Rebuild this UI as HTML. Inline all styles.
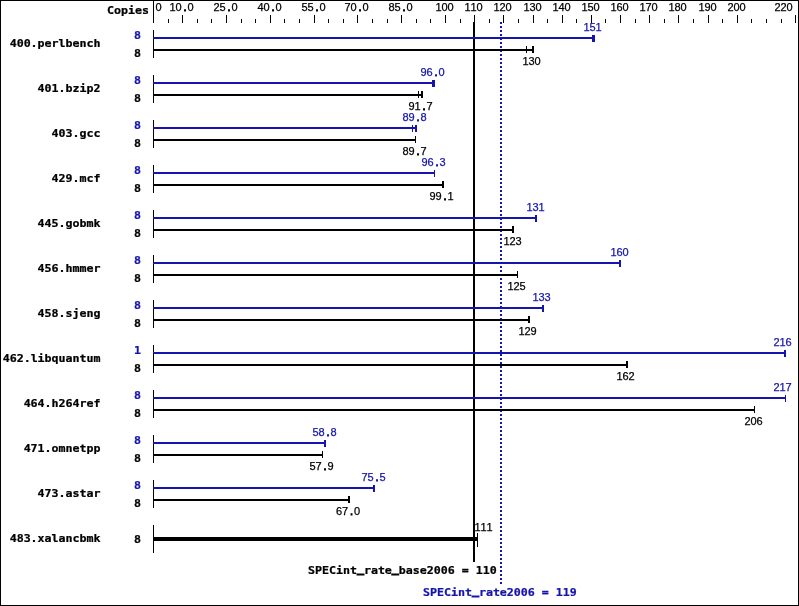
<!DOCTYPE html>
<html lang="en">
<head>
<meta charset="utf-8">
<title>SPECint_rate2006 results graph</title>
<style>
html,body{margin:0;padding:0;background:#fff;}
body{width:799px;height:606px;overflow:hidden;}
svg{display:block;}
text.s{font-family:'Liberation Sans',Arial,sans-serif;font-size:11px;stroke-width:0.25px;}
text.b{font-family:'DejaVu Sans Mono','Liberation Mono',monospace;font-size:11px;font-weight:bold;stroke-width:0.25px;}
tspan.u{stroke-width:0.9px;}
tspan.d{stroke-width:0.9px;}
rect{shape-rendering:crispEdges;}
</style>
</head>
<body>
<svg width="799" height="606" viewBox="0 0 799 606">
<rect x="0" y="0" width="799" height="606" fill="#fff"/>
<rect x="153" y="0" width="1" height="23" fill="#000"/>
<rect x="168" y="19" width="1" height="4" fill="#000"/>
<rect x="182" y="15" width="1" height="8" fill="#000"/>
<rect x="197" y="19" width="1" height="4" fill="#000"/>
<rect x="211" y="19" width="1" height="4" fill="#000"/>
<rect x="226" y="15" width="1" height="8" fill="#000"/>
<rect x="241" y="19" width="1" height="4" fill="#000"/>
<rect x="255" y="19" width="1" height="4" fill="#000"/>
<rect x="270" y="15" width="1" height="8" fill="#000"/>
<rect x="284" y="19" width="1" height="4" fill="#000"/>
<rect x="299" y="19" width="1" height="4" fill="#000"/>
<rect x="314" y="15" width="1" height="8" fill="#000"/>
<rect x="328" y="19" width="1" height="4" fill="#000"/>
<rect x="343" y="19" width="1" height="4" fill="#000"/>
<rect x="357" y="15" width="1" height="8" fill="#000"/>
<rect x="372" y="19" width="1" height="4" fill="#000"/>
<rect x="387" y="19" width="1" height="4" fill="#000"/>
<rect x="401" y="15" width="1" height="8" fill="#000"/>
<rect x="416" y="19" width="1" height="4" fill="#000"/>
<rect x="430" y="19" width="1" height="4" fill="#000"/>
<rect x="445" y="15" width="1" height="8" fill="#000"/>
<rect x="460" y="19" width="1" height="4" fill="#000"/>
<rect x="474" y="15" width="1" height="8" fill="#000"/>
<rect x="489" y="19" width="1" height="4" fill="#000"/>
<rect x="503" y="15" width="1" height="8" fill="#000"/>
<rect x="518" y="19" width="1" height="4" fill="#000"/>
<rect x="533" y="15" width="1" height="8" fill="#000"/>
<rect x="547" y="19" width="1" height="4" fill="#000"/>
<rect x="562" y="15" width="1" height="8" fill="#000"/>
<rect x="576" y="19" width="1" height="4" fill="#000"/>
<rect x="591" y="15" width="1" height="8" fill="#000"/>
<rect x="605" y="19" width="1" height="4" fill="#000"/>
<rect x="620" y="15" width="1" height="8" fill="#000"/>
<rect x="635" y="19" width="1" height="4" fill="#000"/>
<rect x="649" y="15" width="1" height="8" fill="#000"/>
<rect x="664" y="19" width="1" height="4" fill="#000"/>
<rect x="678" y="15" width="1" height="8" fill="#000"/>
<rect x="693" y="19" width="1" height="4" fill="#000"/>
<rect x="708" y="15" width="1" height="8" fill="#000"/>
<rect x="722" y="19" width="1" height="4" fill="#000"/>
<rect x="737" y="15" width="1" height="8" fill="#000"/>
<rect x="751" y="19" width="1" height="4" fill="#000"/>
<rect x="766" y="19" width="1" height="4" fill="#000"/>
<rect x="781" y="19" width="1" height="4" fill="#000"/>
<rect x="795" y="15" width="1" height="8" fill="#000"/>
<text class="s" x="155.5" y="11" fill="#000" stroke="#000">0</text>
<text class="s" x="169.5 175.5 183.5 187.5" y="11" fill="#000" stroke="#000">10<tspan class="d">.</tspan>0</text>
<text class="s" x="213.5 219.5 227.5 231.5" y="11" fill="#000" stroke="#000">25<tspan class="d">.</tspan>0</text>
<text class="s" x="257.5 263.5 271.5 275.5" y="11" fill="#000" stroke="#000">40<tspan class="d">.</tspan>0</text>
<text class="s" x="301.5 307.5 315.5 319.5" y="11" fill="#000" stroke="#000">55<tspan class="d">.</tspan>0</text>
<text class="s" x="344.5 350.5 358.5 362.5" y="11" fill="#000" stroke="#000">70<tspan class="d">.</tspan>0</text>
<text class="s" x="388.5 394.5 402.5 406.5" y="11" fill="#000" stroke="#000">85<tspan class="d">.</tspan>0</text>
<text class="s" x="435.5 441.5 447.5" y="11" fill="#000" stroke="#000">100</text>
<text class="s" x="464.5 470.5 476.5" y="11" fill="#000" stroke="#000">110</text>
<text class="s" x="493.5 499.5 505.5" y="11" fill="#000" stroke="#000">120</text>
<text class="s" x="523.5 529.5 535.5" y="11" fill="#000" stroke="#000">130</text>
<text class="s" x="552.5 558.5 564.5" y="11" fill="#000" stroke="#000">140</text>
<text class="s" x="581.5 587.5 593.5" y="11" fill="#000" stroke="#000">150</text>
<text class="s" x="610.5 616.5 622.5" y="11" fill="#000" stroke="#000">160</text>
<text class="s" x="639.5 645.5 651.5" y="11" fill="#000" stroke="#000">170</text>
<text class="s" x="668.5 674.5 680.5" y="11" fill="#000" stroke="#000">180</text>
<text class="s" x="698.5 704.5 710.5" y="11" fill="#000" stroke="#000">190</text>
<text class="s" x="727.5 733.5 739.5" y="11" fill="#000" stroke="#000">200</text>
<text class="s" x="774.5 780.5 786.5" y="11" fill="#000" stroke="#000">220</text>
<text class="b" transform="translate(149,14) scale(1.0570,1)" fill="#000" stroke="#000" text-anchor="end">Copies</text>
<rect x="473" y="22" width="2" height="540" fill="#000"/>
<rect x="500" y="22" width="2" height="2" fill="#1414ae"/>
<rect x="500" y="26" width="2" height="2" fill="#1414ae"/>
<rect x="500" y="30" width="2" height="2" fill="#1414ae"/>
<rect x="500" y="34" width="2" height="2" fill="#1414ae"/>
<rect x="500" y="38" width="2" height="2" fill="#1414ae"/>
<rect x="500" y="42" width="2" height="2" fill="#1414ae"/>
<rect x="500" y="46" width="2" height="2" fill="#1414ae"/>
<rect x="500" y="50" width="2" height="2" fill="#1414ae"/>
<rect x="500" y="54" width="2" height="2" fill="#1414ae"/>
<rect x="500" y="58" width="2" height="2" fill="#1414ae"/>
<rect x="500" y="62" width="2" height="2" fill="#1414ae"/>
<rect x="500" y="66" width="2" height="2" fill="#1414ae"/>
<rect x="500" y="70" width="2" height="2" fill="#1414ae"/>
<rect x="500" y="74" width="2" height="2" fill="#1414ae"/>
<rect x="500" y="78" width="2" height="2" fill="#1414ae"/>
<rect x="500" y="82" width="2" height="2" fill="#1414ae"/>
<rect x="500" y="86" width="2" height="2" fill="#1414ae"/>
<rect x="500" y="90" width="2" height="2" fill="#1414ae"/>
<rect x="500" y="94" width="2" height="2" fill="#1414ae"/>
<rect x="500" y="98" width="2" height="2" fill="#1414ae"/>
<rect x="500" y="102" width="2" height="2" fill="#1414ae"/>
<rect x="500" y="106" width="2" height="2" fill="#1414ae"/>
<rect x="500" y="110" width="2" height="2" fill="#1414ae"/>
<rect x="500" y="114" width="2" height="2" fill="#1414ae"/>
<rect x="500" y="118" width="2" height="2" fill="#1414ae"/>
<rect x="500" y="122" width="2" height="2" fill="#1414ae"/>
<rect x="500" y="126" width="2" height="2" fill="#1414ae"/>
<rect x="500" y="130" width="2" height="2" fill="#1414ae"/>
<rect x="500" y="134" width="2" height="2" fill="#1414ae"/>
<rect x="500" y="138" width="2" height="2" fill="#1414ae"/>
<rect x="500" y="142" width="2" height="2" fill="#1414ae"/>
<rect x="500" y="146" width="2" height="2" fill="#1414ae"/>
<rect x="500" y="150" width="2" height="2" fill="#1414ae"/>
<rect x="500" y="154" width="2" height="2" fill="#1414ae"/>
<rect x="500" y="158" width="2" height="2" fill="#1414ae"/>
<rect x="500" y="162" width="2" height="2" fill="#1414ae"/>
<rect x="500" y="166" width="2" height="2" fill="#1414ae"/>
<rect x="500" y="170" width="2" height="2" fill="#1414ae"/>
<rect x="500" y="174" width="2" height="2" fill="#1414ae"/>
<rect x="500" y="178" width="2" height="2" fill="#1414ae"/>
<rect x="500" y="182" width="2" height="2" fill="#1414ae"/>
<rect x="500" y="186" width="2" height="2" fill="#1414ae"/>
<rect x="500" y="190" width="2" height="2" fill="#1414ae"/>
<rect x="500" y="194" width="2" height="2" fill="#1414ae"/>
<rect x="500" y="198" width="2" height="2" fill="#1414ae"/>
<rect x="500" y="202" width="2" height="2" fill="#1414ae"/>
<rect x="500" y="206" width="2" height="2" fill="#1414ae"/>
<rect x="500" y="210" width="2" height="2" fill="#1414ae"/>
<rect x="500" y="214" width="2" height="2" fill="#1414ae"/>
<rect x="500" y="218" width="2" height="2" fill="#1414ae"/>
<rect x="500" y="222" width="2" height="2" fill="#1414ae"/>
<rect x="500" y="226" width="2" height="2" fill="#1414ae"/>
<rect x="500" y="230" width="2" height="2" fill="#1414ae"/>
<rect x="500" y="234" width="2" height="2" fill="#1414ae"/>
<rect x="500" y="238" width="2" height="2" fill="#1414ae"/>
<rect x="500" y="242" width="2" height="2" fill="#1414ae"/>
<rect x="500" y="246" width="2" height="2" fill="#1414ae"/>
<rect x="500" y="250" width="2" height="2" fill="#1414ae"/>
<rect x="500" y="254" width="2" height="2" fill="#1414ae"/>
<rect x="500" y="258" width="2" height="2" fill="#1414ae"/>
<rect x="500" y="262" width="2" height="2" fill="#1414ae"/>
<rect x="500" y="266" width="2" height="2" fill="#1414ae"/>
<rect x="500" y="270" width="2" height="2" fill="#1414ae"/>
<rect x="500" y="274" width="2" height="2" fill="#1414ae"/>
<rect x="500" y="278" width="2" height="2" fill="#1414ae"/>
<rect x="500" y="282" width="2" height="2" fill="#1414ae"/>
<rect x="500" y="286" width="2" height="2" fill="#1414ae"/>
<rect x="500" y="290" width="2" height="2" fill="#1414ae"/>
<rect x="500" y="294" width="2" height="2" fill="#1414ae"/>
<rect x="500" y="298" width="2" height="2" fill="#1414ae"/>
<rect x="500" y="302" width="2" height="2" fill="#1414ae"/>
<rect x="500" y="306" width="2" height="2" fill="#1414ae"/>
<rect x="500" y="310" width="2" height="2" fill="#1414ae"/>
<rect x="500" y="314" width="2" height="2" fill="#1414ae"/>
<rect x="500" y="318" width="2" height="2" fill="#1414ae"/>
<rect x="500" y="322" width="2" height="2" fill="#1414ae"/>
<rect x="500" y="326" width="2" height="2" fill="#1414ae"/>
<rect x="500" y="330" width="2" height="2" fill="#1414ae"/>
<rect x="500" y="334" width="2" height="2" fill="#1414ae"/>
<rect x="500" y="338" width="2" height="2" fill="#1414ae"/>
<rect x="500" y="342" width="2" height="2" fill="#1414ae"/>
<rect x="500" y="346" width="2" height="2" fill="#1414ae"/>
<rect x="500" y="350" width="2" height="2" fill="#1414ae"/>
<rect x="500" y="354" width="2" height="2" fill="#1414ae"/>
<rect x="500" y="358" width="2" height="2" fill="#1414ae"/>
<rect x="500" y="362" width="2" height="2" fill="#1414ae"/>
<rect x="500" y="366" width="2" height="2" fill="#1414ae"/>
<rect x="500" y="370" width="2" height="2" fill="#1414ae"/>
<rect x="500" y="374" width="2" height="2" fill="#1414ae"/>
<rect x="500" y="378" width="2" height="2" fill="#1414ae"/>
<rect x="500" y="382" width="2" height="2" fill="#1414ae"/>
<rect x="500" y="386" width="2" height="2" fill="#1414ae"/>
<rect x="500" y="390" width="2" height="2" fill="#1414ae"/>
<rect x="500" y="394" width="2" height="2" fill="#1414ae"/>
<rect x="500" y="398" width="2" height="2" fill="#1414ae"/>
<rect x="500" y="402" width="2" height="2" fill="#1414ae"/>
<rect x="500" y="406" width="2" height="2" fill="#1414ae"/>
<rect x="500" y="410" width="2" height="2" fill="#1414ae"/>
<rect x="500" y="414" width="2" height="2" fill="#1414ae"/>
<rect x="500" y="418" width="2" height="2" fill="#1414ae"/>
<rect x="500" y="422" width="2" height="2" fill="#1414ae"/>
<rect x="500" y="426" width="2" height="2" fill="#1414ae"/>
<rect x="500" y="430" width="2" height="2" fill="#1414ae"/>
<rect x="500" y="434" width="2" height="2" fill="#1414ae"/>
<rect x="500" y="438" width="2" height="2" fill="#1414ae"/>
<rect x="500" y="442" width="2" height="2" fill="#1414ae"/>
<rect x="500" y="446" width="2" height="2" fill="#1414ae"/>
<rect x="500" y="450" width="2" height="2" fill="#1414ae"/>
<rect x="500" y="454" width="2" height="2" fill="#1414ae"/>
<rect x="500" y="458" width="2" height="2" fill="#1414ae"/>
<rect x="500" y="462" width="2" height="2" fill="#1414ae"/>
<rect x="500" y="466" width="2" height="2" fill="#1414ae"/>
<rect x="500" y="470" width="2" height="2" fill="#1414ae"/>
<rect x="500" y="474" width="2" height="2" fill="#1414ae"/>
<rect x="500" y="478" width="2" height="2" fill="#1414ae"/>
<rect x="500" y="482" width="2" height="2" fill="#1414ae"/>
<rect x="500" y="486" width="2" height="2" fill="#1414ae"/>
<rect x="500" y="490" width="2" height="2" fill="#1414ae"/>
<rect x="500" y="494" width="2" height="2" fill="#1414ae"/>
<rect x="500" y="498" width="2" height="2" fill="#1414ae"/>
<rect x="500" y="502" width="2" height="2" fill="#1414ae"/>
<rect x="500" y="506" width="2" height="2" fill="#1414ae"/>
<rect x="500" y="510" width="2" height="2" fill="#1414ae"/>
<rect x="500" y="514" width="2" height="2" fill="#1414ae"/>
<rect x="500" y="518" width="2" height="2" fill="#1414ae"/>
<rect x="500" y="522" width="2" height="2" fill="#1414ae"/>
<rect x="500" y="526" width="2" height="2" fill="#1414ae"/>
<rect x="500" y="530" width="2" height="2" fill="#1414ae"/>
<rect x="500" y="534" width="2" height="2" fill="#1414ae"/>
<rect x="500" y="538" width="2" height="2" fill="#1414ae"/>
<rect x="500" y="542" width="2" height="2" fill="#1414ae"/>
<rect x="500" y="546" width="2" height="2" fill="#1414ae"/>
<rect x="500" y="550" width="2" height="2" fill="#1414ae"/>
<rect x="500" y="554" width="2" height="2" fill="#1414ae"/>
<rect x="500" y="558" width="2" height="2" fill="#1414ae"/>
<rect x="500" y="562" width="2" height="2" fill="#1414ae"/>
<rect x="500" y="566" width="2" height="2" fill="#1414ae"/>
<rect x="500" y="570" width="2" height="2" fill="#1414ae"/>
<rect x="500" y="574" width="2" height="2" fill="#1414ae"/>
<rect x="500" y="578" width="2" height="2" fill="#1414ae"/>
<rect x="500" y="582" width="2" height="2" fill="#1414ae"/>
<rect x="153" y="30" width="1" height="28" fill="#000"/>
<text class="b" transform="translate(100.5,47) scale(1.0570,1)" fill="#000" stroke="#000" text-anchor="end">400.perlbench</text>
<text class="b" transform="translate(141,39) scale(1.0570,1)" fill="#1414ae" stroke="#1414ae" text-anchor="end">8</text>
<text class="b" transform="translate(141,57) scale(1.0570,1)" fill="#000" stroke="#000" text-anchor="end">8</text>
<rect x="153" y="37" width="442" height="2" fill="#1414ae"/>
<rect x="593" y="35" width="2" height="7" fill="#1414ae"/>
<rect x="592" y="35" width="1" height="7" fill="#1414ae"/>
<text class="s" x="583.5 589.5 595.5" y="31" fill="#1414ae" stroke="#1414ae">151</text>
<rect x="153" y="49" width="381" height="2" fill="#000"/>
<rect x="532" y="46" width="2" height="7" fill="#000"/>
<rect x="526" y="46" width="1" height="7" fill="#000"/>
<text class="s" x="522.5 528.5 534.5" y="65" fill="#000" stroke="#000">130</text>
<rect x="153" y="75" width="1" height="28" fill="#000"/>
<text class="b" transform="translate(100.5,92) scale(1.0570,1)" fill="#000" stroke="#000" text-anchor="end">401.bzip2</text>
<text class="b" transform="translate(141,84) scale(1.0570,1)" fill="#1414ae" stroke="#1414ae" text-anchor="end">8</text>
<text class="b" transform="translate(141,102) scale(1.0570,1)" fill="#000" stroke="#000" text-anchor="end">8</text>
<rect x="153" y="82" width="282" height="2" fill="#1414ae"/>
<rect x="433" y="80" width="2" height="7" fill="#1414ae"/>
<rect x="432" y="80" width="1" height="7" fill="#1414ae"/>
<text class="s" x="420.5 426.5 434.5 438.5" y="76" fill="#1414ae" stroke="#1414ae">96<tspan class="d">.</tspan>0</text>
<rect x="153" y="94" width="270" height="2" fill="#000"/>
<rect x="421" y="91" width="2" height="7" fill="#000"/>
<rect x="418" y="91" width="1" height="7" fill="#000"/>
<text class="s" x="408.5 414.5 422.5 426.5" y="110" fill="#000" stroke="#000">91<tspan class="d">.</tspan>7</text>
<rect x="153" y="120" width="1" height="28" fill="#000"/>
<text class="b" transform="translate(100.5,137) scale(1.0570,1)" fill="#000" stroke="#000" text-anchor="end">403.gcc</text>
<text class="b" transform="translate(141,129) scale(1.0570,1)" fill="#1414ae" stroke="#1414ae" text-anchor="end">8</text>
<text class="b" transform="translate(141,147) scale(1.0570,1)" fill="#000" stroke="#000" text-anchor="end">8</text>
<rect x="153" y="127" width="264" height="2" fill="#1414ae"/>
<rect x="415" y="125" width="2" height="7" fill="#1414ae"/>
<rect x="412" y="125" width="1" height="7" fill="#1414ae"/>
<text class="s" x="402.5 408.5 416.5 420.5" y="121" fill="#1414ae" stroke="#1414ae">89<tspan class="d">.</tspan>8</text>
<rect x="153" y="139" width="263" height="2" fill="#000"/>
<rect x="415" y="136" width="1" height="7" fill="#000"/>
<text class="s" x="402.5 408.5 416.5 420.5" y="155" fill="#000" stroke="#000">89<tspan class="d">.</tspan>7</text>
<rect x="153" y="165" width="1" height="28" fill="#000"/>
<text class="b" transform="translate(100.5,182) scale(1.0570,1)" fill="#000" stroke="#000" text-anchor="end">429.mcf</text>
<text class="b" transform="translate(141,174) scale(1.0570,1)" fill="#1414ae" stroke="#1414ae" text-anchor="end">8</text>
<text class="b" transform="translate(141,192) scale(1.0570,1)" fill="#000" stroke="#000" text-anchor="end">8</text>
<rect x="153" y="172" width="282" height="2" fill="#1414ae"/>
<rect x="434" y="170" width="1" height="7" fill="#1414ae"/>
<text class="s" x="421.5 427.5 435.5 439.5" y="166" fill="#1414ae" stroke="#1414ae">96<tspan class="d">.</tspan>3</text>
<rect x="153" y="184" width="291" height="2" fill="#000"/>
<rect x="442" y="181" width="2" height="7" fill="#000"/>
<text class="s" x="429.5 435.5 443.5 447.5" y="200" fill="#000" stroke="#000">99<tspan class="d">.</tspan>1</text>
<rect x="153" y="210" width="1" height="28" fill="#000"/>
<text class="b" transform="translate(100.5,227) scale(1.0570,1)" fill="#000" stroke="#000" text-anchor="end">445.gobmk</text>
<text class="b" transform="translate(141,219) scale(1.0570,1)" fill="#1414ae" stroke="#1414ae" text-anchor="end">8</text>
<text class="b" transform="translate(141,237) scale(1.0570,1)" fill="#000" stroke="#000" text-anchor="end">8</text>
<rect x="153" y="217" width="384" height="2" fill="#1414ae"/>
<rect x="535" y="215" width="2" height="7" fill="#1414ae"/>
<text class="s" x="526.5 532.5 538.5" y="211" fill="#1414ae" stroke="#1414ae">131</text>
<rect x="153" y="229" width="361" height="2" fill="#000"/>
<rect x="512" y="226" width="2" height="7" fill="#000"/>
<text class="s" x="503.5 509.5 515.5" y="245" fill="#000" stroke="#000">123</text>
<rect x="153" y="255" width="1" height="28" fill="#000"/>
<text class="b" transform="translate(100.5,272) scale(1.0570,1)" fill="#000" stroke="#000" text-anchor="end">456.hmmer</text>
<text class="b" transform="translate(141,264) scale(1.0570,1)" fill="#1414ae" stroke="#1414ae" text-anchor="end">8</text>
<text class="b" transform="translate(141,282) scale(1.0570,1)" fill="#000" stroke="#000" text-anchor="end">8</text>
<rect x="153" y="262" width="468" height="2" fill="#1414ae"/>
<rect x="619" y="260" width="2" height="7" fill="#1414ae"/>
<text class="s" x="610.5 616.5 622.5" y="256" fill="#1414ae" stroke="#1414ae">160</text>
<rect x="153" y="274" width="365" height="2" fill="#000"/>
<rect x="517" y="271" width="1" height="7" fill="#000"/>
<text class="s" x="507.5 513.5 519.5" y="290" fill="#000" stroke="#000">125</text>
<rect x="153" y="300" width="1" height="28" fill="#000"/>
<text class="b" transform="translate(100.5,317) scale(1.0570,1)" fill="#000" stroke="#000" text-anchor="end">458.sjeng</text>
<text class="b" transform="translate(141,309) scale(1.0570,1)" fill="#1414ae" stroke="#1414ae" text-anchor="end">8</text>
<text class="b" transform="translate(141,327) scale(1.0570,1)" fill="#000" stroke="#000" text-anchor="end">8</text>
<rect x="153" y="307" width="391" height="2" fill="#1414ae"/>
<rect x="542" y="305" width="2" height="7" fill="#1414ae"/>
<text class="s" x="532.5 538.5 544.5" y="301" fill="#1414ae" stroke="#1414ae">133</text>
<rect x="153" y="319" width="377" height="2" fill="#000"/>
<rect x="528" y="316" width="2" height="7" fill="#000"/>
<text class="s" x="518.5 524.5 530.5" y="335" fill="#000" stroke="#000">129</text>
<rect x="153" y="345" width="1" height="28" fill="#000"/>
<text class="b" transform="translate(100.5,362) scale(1.0570,1)" fill="#000" stroke="#000" text-anchor="end">462.libquantum</text>
<text class="b" transform="translate(141,354) scale(1.0570,1)" fill="#1414ae" stroke="#1414ae" text-anchor="end">1</text>
<text class="b" transform="translate(141,372) scale(1.0570,1)" fill="#000" stroke="#000" text-anchor="end">8</text>
<rect x="153" y="352" width="633" height="2" fill="#1414ae"/>
<rect x="784" y="350" width="2" height="7" fill="#1414ae"/>
<text class="s" x="773.5 779.5 785.5" y="346" fill="#1414ae" stroke="#1414ae">216</text>
<rect x="153" y="364" width="475" height="2" fill="#000"/>
<rect x="626" y="361" width="2" height="7" fill="#000"/>
<text class="s" x="616.5 622.5 628.5" y="380" fill="#000" stroke="#000">162</text>
<rect x="153" y="390" width="1" height="28" fill="#000"/>
<text class="b" transform="translate(100.5,407) scale(1.0570,1)" fill="#000" stroke="#000" text-anchor="end">464.h264ref</text>
<text class="b" transform="translate(141,399) scale(1.0570,1)" fill="#1414ae" stroke="#1414ae" text-anchor="end">8</text>
<text class="b" transform="translate(141,417) scale(1.0570,1)" fill="#000" stroke="#000" text-anchor="end">8</text>
<rect x="153" y="397" width="633" height="2" fill="#1414ae"/>
<rect x="785" y="395" width="1" height="7" fill="#1414ae"/>
<text class="s" x="773.5 779.5 785.5" y="391" fill="#1414ae" stroke="#1414ae">217</text>
<rect x="153" y="409" width="602" height="2" fill="#000"/>
<rect x="754" y="406" width="1" height="7" fill="#000"/>
<text class="s" x="744.5 750.5 756.5" y="425" fill="#000" stroke="#000">206</text>
<rect x="153" y="435" width="1" height="28" fill="#000"/>
<text class="b" transform="translate(100.5,452) scale(1.0570,1)" fill="#000" stroke="#000" text-anchor="end">471.omnetpp</text>
<text class="b" transform="translate(141,444) scale(1.0570,1)" fill="#1414ae" stroke="#1414ae" text-anchor="end">8</text>
<text class="b" transform="translate(141,462) scale(1.0570,1)" fill="#000" stroke="#000" text-anchor="end">8</text>
<rect x="153" y="442" width="173" height="2" fill="#1414ae"/>
<rect x="324" y="440" width="2" height="7" fill="#1414ae"/>
<text class="s" x="312.5 318.5 326.5 330.5" y="436" fill="#1414ae" stroke="#1414ae">58<tspan class="d">.</tspan>8</text>
<rect x="153" y="454" width="170" height="2" fill="#000"/>
<rect x="322" y="451" width="1" height="7" fill="#000"/>
<text class="s" x="309.5 315.5 323.5 327.5" y="470" fill="#000" stroke="#000">57<tspan class="d">.</tspan>9</text>
<rect x="153" y="480" width="1" height="28" fill="#000"/>
<text class="b" transform="translate(100.5,497) scale(1.0570,1)" fill="#000" stroke="#000" text-anchor="end">473.astar</text>
<text class="b" transform="translate(141,489) scale(1.0570,1)" fill="#1414ae" stroke="#1414ae" text-anchor="end">8</text>
<text class="b" transform="translate(141,507) scale(1.0570,1)" fill="#000" stroke="#000" text-anchor="end">8</text>
<rect x="153" y="487" width="222" height="2" fill="#1414ae"/>
<rect x="373" y="485" width="2" height="7" fill="#1414ae"/>
<text class="s" x="361.5 367.5 375.5 379.5" y="481" fill="#1414ae" stroke="#1414ae">75<tspan class="d">.</tspan>5</text>
<rect x="153" y="499" width="197" height="2" fill="#000"/>
<rect x="348" y="496" width="2" height="7" fill="#000"/>
<text class="s" x="336 342 350 354" y="515" fill="#000" stroke="#000">67<tspan class="d">.</tspan>0</text>
<rect x="153" y="525" width="1" height="28" fill="#000"/>
<text class="b" transform="translate(100.5,542) scale(1.0570,1)" fill="#000" stroke="#000" text-anchor="end">483.xalancbmk</text>
<text class="b" transform="translate(141,543) scale(1.0570,1)" fill="#000" stroke="#000" text-anchor="end">8</text>
<rect x="153" y="537" width="325" height="4" fill="#000"/>
<rect x="477" y="533" width="1" height="14" fill="#000"/>
<text class="s" x="474.5 480.5 486.5" y="531" fill="#000" stroke="#000">111</text>
<text class="b" transform="translate(308,574) scale(1.0570,1)" fill="#000" stroke="#000">SPECint<tspan class="u" dy="-2">_</tspan><tspan dy="2">rate</tspan><tspan class="u" dy="-2">_</tspan><tspan dy="2">base2006 = 110</tspan></text>
<text class="b" transform="translate(423,596) scale(1.0570,1)" fill="#1414ae" stroke="#1414ae">SPECint<tspan class="u" dy="-2">_</tspan><tspan dy="2">rate2006 = 119</tspan></text>
<rect x="0" y="0" width="799" height="1" fill="#000"/>
<rect x="0" y="605" width="799" height="1" fill="#000"/>
<rect x="0" y="0" width="1" height="606" fill="#000"/>
<rect x="798" y="0" width="1" height="606" fill="#000"/>
</svg>
</body>
</html>
